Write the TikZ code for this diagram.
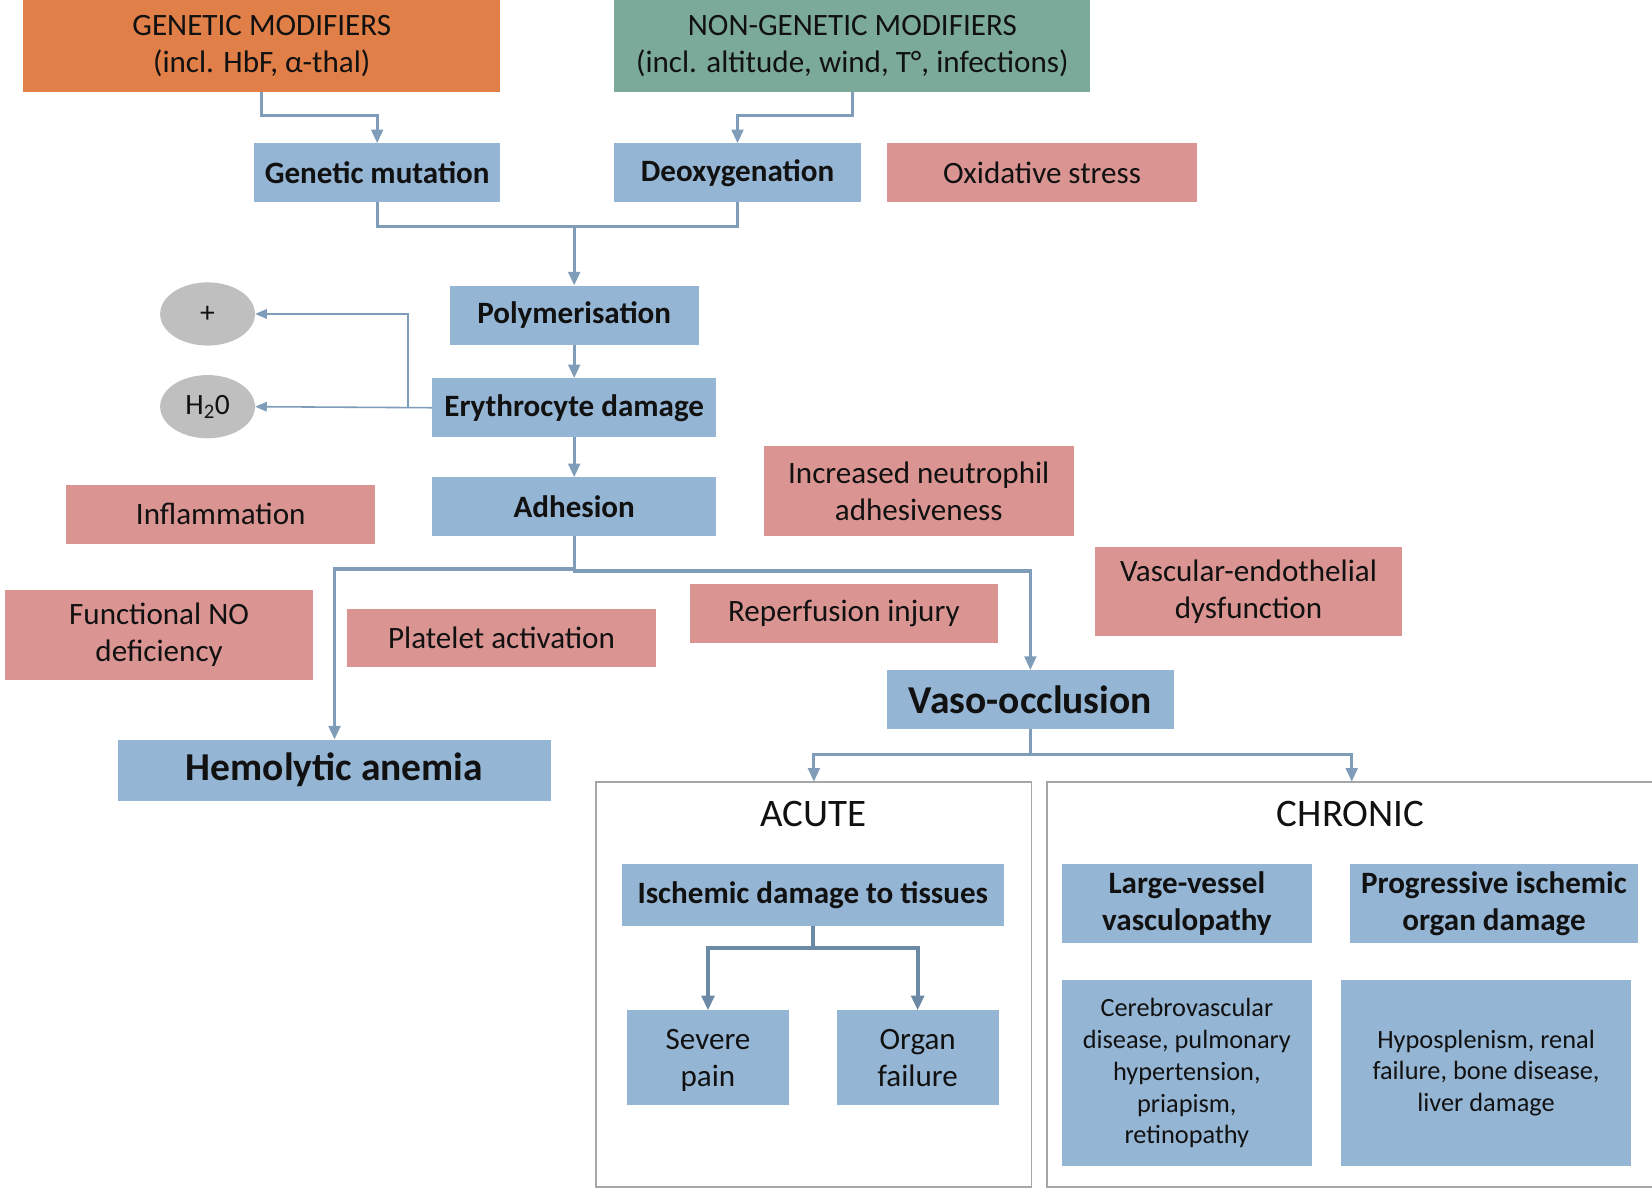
\documentclass[tikz,border=0pt]{standalone}
\usepackage{fontspec}
\setmainfont{Carlito}
\usetikzlibrary{arrows.meta,shapes.geometric}
\definecolor{bl}{HTML}{95B5D4}
\definecolor{pk}{HTML}{DA9593}
\definecolor{og}{HTML}{E07F48}
\definecolor{tl}{HTML}{7BA99A}
\definecolor{ln}{HTML}{7F9DB9}
\definecolor{lnd}{HTML}{6C8AA5}
\definecolor{gy}{HTML}{BFBFBF}
\definecolor{fr}{HTML}{A6A6A6}
\definecolor{tx}{HTML}{111111}
\newcommand{\bx}[7]{\node[#6, minimum width={(#4-#2)*1pt}, minimum height={(#5-#3)*1pt}] (#1) at ({(#2+#4)/2},{(#3+#5)/2}) {#7};}
\tikzset{
  box/.style={inner sep=0pt, outer sep=0pt, align=center, text=tx, font=\fontsize{29.5}{35}\selectfont},
  bluebox/.style={box, fill=bl, font=\fontsize{29.5}{35}\selectfont\bfseries},
  bluereg/.style={box, fill=bl},
  bluesmall/.style={box, fill=bl, font=\fontsize{25}{30.3}\selectfont},
  pinkbox/.style={box, fill=pk},
  orbox/.style={box, fill=og},
  tlbox/.style={box, fill=tl},
  frame/.style={box, draw=fr, line width=1.8pt},
  oval/.style={ellipse, fill=gy, inner sep=0pt, minimum width=90pt, minimum height=60pt, text=tx, font=\fontsize{28}{30}\selectfont},
  conn/.style={draw=ln, line width=3pt},
  arr/.style={conn, -{Triangle[length=13pt,width=11pt]}},
  thinarr/.style={draw=ln, line width=1.5pt, -{Triangle[length=11pt,width=9pt]}},
  darr/.style={draw=lnd, line width=4pt, -{Triangle[length=14pt,width=12pt]}},
}
\begin{document}
\begin{tikzpicture}[x=1pt,y=-1pt]
\useasboundingbox (0,0) rectangle (1568,1129);
\bx{genmod}{22}{0}{475}{87}{orbox}{GENETIC MODIFIERS\\(incl. HbF, α-thal)}
\bx{nongen}{583}{0}{1035}{87}{tlbox}{NON-GENETIC MODIFIERS\\(incl. altitude, wind, T°, infections)}
\bx{genmut}{241}{136}{475}{192}{bluebox}{Genetic mutation}
\bx{deoxy}{583}{136}{817}{192}{bluebox}{Deoxygenation}
\bx{oxid}{842}{136}{1136}{192}{pinkbox}{Oxidative stress}
\bx{polym}{427}{271}{663}{327}{bluebox}{Polymerisation}
\bx{eryth}{410}{359}{680}{415}{bluebox}{Erythrocyte damage}
\bx{adh}{410}{453}{680}{509}{bluebox}{Adhesion}
\node[oval] (plus) at (197,298) {+};
\node[oval] (hwo) at (197,386) {H\textsubscript{2}0};
\bx{infl}{63}{460}{356}{516}{pinkbox}{Inflammation}
\bx{neut}{725}{423}{1019}{509}{pinkbox}{Increased neutrophil\\adhesiveness}
\bx{fno}{5}{560}{297}{645}{pinkbox}{Functional NO\\deficiency}
\bx{plat}{329}{578}{623}{633}{pinkbox}{Platelet activation}
\bx{reperf}{655}{554}{947}{610}{pinkbox}{Reperfusion injury}
\bx{vasc}{1039}{519}{1331}{604}{pinkbox}{Vascular-endothelial\\dysfunction}
\bx{vaso}{842}{636}{1114}{692}{bluebox}{\fontsize{37.5}{42}\selectfont Vaso-occlusion}
\bx{hemo}{112}{702}{523}{760}{bluebox}{\fontsize{37.5}{42}\selectfont Hemolytic anemia}
\bx{acute}{566}{742}{979}{1127}{frame}{}
\bx{chronic}{994}{742}{1572}{1127}{frame}{}
\node[box, font=\fontsize{37}{40}\selectfont] (acutet) at (772,773) {ACUTE};
\node[box, font=\fontsize{37}{40}\selectfont] (chront) at (1282,773) {CHRONIC};
\bx{isch}{590}{820}{953}{879}{bluebox}{Ischemic damage to tissues}
\bx{pain}{595}{959}{749}{1049}{bluereg}{Severe\\\raisebox{0pt}[\height][0pt]{pain}}
\bx{organ}{794}{959}{948}{1049}{bluereg}{Organ\\failure}
\bx{large}{1008}{820}{1245}{895}{bluebox}{Large-vessel\\vasculopathy}
\bx{prog}{1281}{820}{1555}{895}{bluebox}{Progressive ischemic\\organ damage}
\bx{cereb}{1008}{930}{1245}{1107}{bluesmall}{Cerebrovascular\\disease, pulmonary\\hypertension,\\priapism,\\retinopathy}
\bx{hypo}{1273}{930}{1548}{1107}{bluesmall}{Hyposplenism, renal\\failure, bone disease,\\liver damage}
% connectors
\draw[arr] (genmod.south) -- ++(0,23) -| (genmut.north);
\draw[arr] (nongen.south) -- ++(0,23) -| (deoxy.north);
\coordinate (j1) at (polym.north |- 0,215);
\draw[conn] (genmut.south) |- (j1) -| (deoxy.south);
\draw[arr] (j1) -- (polym.north);
\draw[arr] (polym.south) -- (eryth.north);
\draw[arr] (eryth.south) -- (adh.north);
\draw[thinarr] (eryth.west) -- (hwo.east);
\coordinate (k) at (387,386);
\draw[thinarr] (k) |- (plus.east);
\draw[arr] (adh.south) -- ++(0,31) -| (hemo.north);
\draw[arr] (adh.south) -- ++(0,33) -| (vaso.north);
\draw[arr] (vaso.south) -- ++(0,24) -| (acute.north);
\draw[arr] (vaso.south) -- ++(0,24) -| (chronic.north);
\draw[darr] (isch.south) -- ++(0,21) -| (pain.north);
\draw[darr] (isch.south) -- ++(0,21) -| (organ.north);
\end{tikzpicture}
\end{document}
